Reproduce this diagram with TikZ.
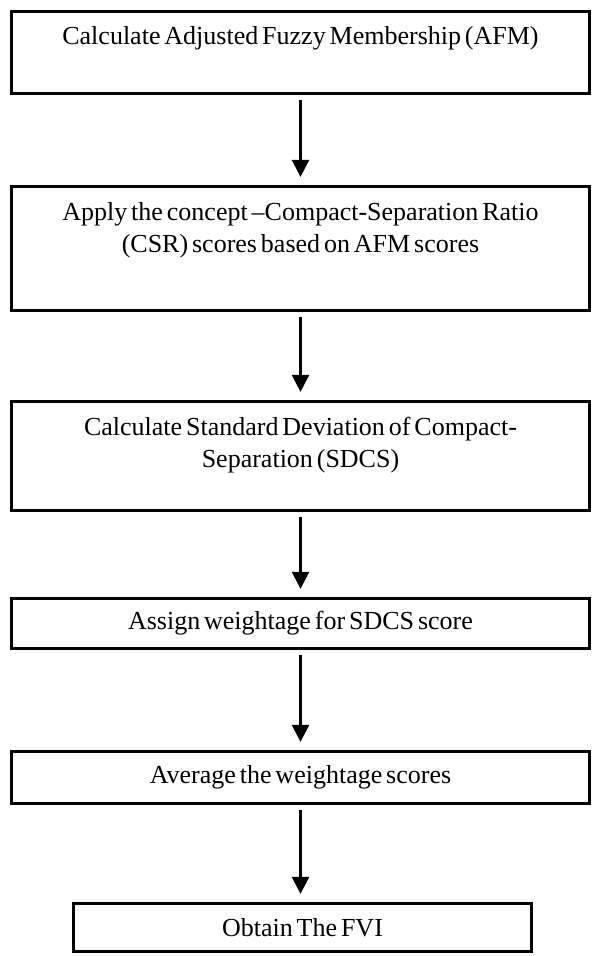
\documentclass[tikz,border=0pt]{standalone}
\usepackage{fontspec}
\setmainfont{Liberation Serif}
\usetikzlibrary{arrows.meta}
\newcommand\stepfont{\fontsize{26}{32}\selectfont\spaceskip=0.15em plus 0.05em\relax}
\begin{document}
\begin{tikzpicture}[x=1pt, y=-1pt, line join=miter,
	stepbox/.style={draw, line width=3.3pt, minimum width=578pt, inner sep=0pt, align=center, font=\stepfont},
	flow/.style={line width=2.6pt, -{Triangle[width=17pt,length=17pt]}, shorten <=5pt, shorten >=8pt}]
		\useasboundingbox (0,0) rectangle (593,956);
		\node[stepbox, minimum height=82pt] (afm) at (300.5,52.5) {Calculate Adjusted Fuzzy Membership (AFM)\\[-8pt] \strut};
		\node[stepbox, minimum height=124pt] (csr) at (300.5,248.5) {Apply the concept --Compact-Separation Ratio\\(CSR) scores based on AFM scores\\ \strut};
		\node[stepbox, minimum height=109pt] (sdcs) at (300.5,456) {Calculate Standard Deviation of Compact-\\Separation (SDCS)\\[-14pt] \strut};
		\node[stepbox, minimum height=50pt] (weight) at (300.5,623.5) {Assign weightage for SDCS score};
		\node[stepbox, minimum height=52pt] (avg) at (300.5,777.5) {Average the weightage scores};
		\node[stepbox, minimum height=48pt, minimum width=458pt] (fvi) at (302.5,927.5) {Obtain The FVI};
		\draw[flow] (afm) -- (csr);
		\draw[flow] (csr) -- (sdcs);
		\draw[flow] (sdcs) -- (weight);
		\draw[flow] (weight) -- (avg);
		\draw[flow] (avg.south) -- (avg.south |- fvi.north);
		\end{tikzpicture}
\end{document}
